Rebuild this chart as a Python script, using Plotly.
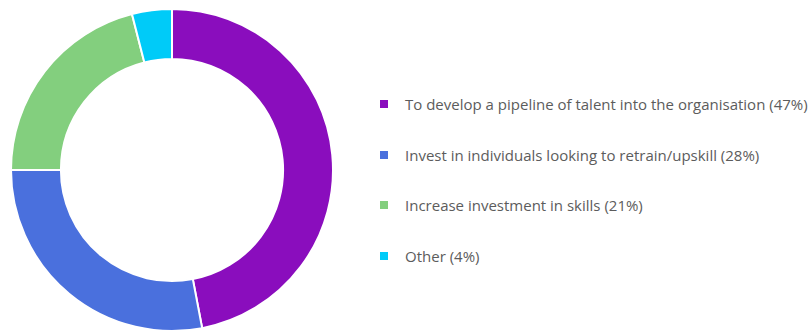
import plotly.graph_objects as go

# Survey responses: main reason for the apprenticeship programme
labels = [
    "To develop a pipeline of talent into the organisation",
    "Invest in individuals looking to retrain/upskill",
    "Increase investment in skills",
    "Other",
]
values = [47, 28, 21, 4]
colors = ["#8A0DBD", "#4A70DD", "#83CF7E", "#00CBF8"]

W, H = 810, 331

fig = go.Figure()
fig.add_trace(go.Pie(
    labels=labels,
    values=values,
    sort=False,
    direction="clockwise",
    rotation=0,
    hole=0.69,
    marker=dict(colors=colors, line=dict(color="white", width=2)),
    textinfo="none",
    hoverinfo="label+percent",
    showlegend=False,
    domain=dict(x=[11 / W, 333 / W], y=[0, 322 / H]),
))

# Custom legend: coloured square + label with share
legend_x_box = 384
legend_x_text = 403
legend_y = [104, 155, 205, 256]
shapes = []
annotations = []
for lab, val, col, yc in zip(labels, values, colors, legend_y):
    shapes.append(dict(
        type="rect", xref="paper", yref="paper",
        x0=(legend_x_box - 4) / W, x1=(legend_x_box + 4) / W,
        y0=(H - yc - 4) / H, y1=(H - yc + 4) / H,
        fillcolor=col, line=dict(width=0),
    ))
    annotations.append(dict(
        xref="paper", yref="paper",
        x=legend_x_text / W, y=(H - yc) / H,
        xanchor="left", yanchor="middle",
        text=f"{lab} ({val}%)",
        showarrow=False,
        font=dict(family="Open Sans", size=15, color="#5c5c5c"),
    ))

fig.update_layout(
    width=W, height=H,
    margin=dict(l=0, r=0, t=0, b=0),
    paper_bgcolor="white",
    plot_bgcolor="white",
    shapes=shapes,
    annotations=annotations,
)

fig.write_html("out.html")
